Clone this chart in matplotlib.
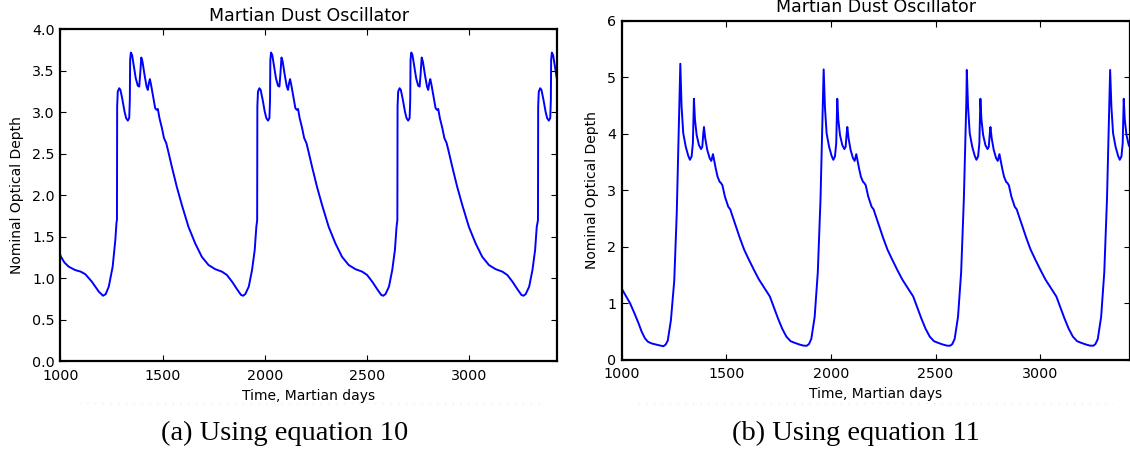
import matplotlib
matplotlib.use("Agg")
import matplotlib.pyplot as plt
from matplotlib.lines import Line2D

# -------------------------
# Data
# -------------------------
# (a) equation 10: the stretch before the first storm onset
left_head_x = [1000, 1003, 1020, 1041, 1072, 1100, 1122, 1154, 1188, 1209, 1222, 1237, 1256, 1269, 1275]
left_head_y = [1.28, 1.26, 1.19, 1.14, 1.10, 1.08, 1.05, 0.96, 0.84, 0.79, 0.81, 0.90, 1.14, 1.46, 1.68]

# one storm cycle, days after onset
left_cycle_d = [0, 1, 4, 11, 17, 27, 37, 45, 53, 60, 63, 64.5, 68, 74, 83, 92, 102, 109,
                114, 119, 125, 135, 145, 151, 156, 161, 167, 177, 187, 194, 200, 208,
                220, 230, 241, 249, 269, 293, 318, 350, 383, 415, 448, 481, 514, 538,
                563, 587, 607, 617, 628, 645, 661, 674, 682]
left_cycle_y = [1.70, 3.07, 3.25, 3.29, 3.27, 3.15, 3.01, 2.93, 2.90, 2.93, 3.15, 3.63, 3.72,
                3.69, 3.55, 3.41, 3.32, 3.31, 3.47, 3.66, 3.61, 3.45, 3.31, 3.27, 3.35,
                3.40, 3.33, 3.19, 3.05, 3.03, 3.04, 2.93, 2.81, 2.69, 2.63, 2.55, 2.34,
                2.10, 1.88, 1.62, 1.42, 1.26, 1.16, 1.11, 1.08, 1.04, 0.96, 0.87, 0.80,
                0.79, 0.81, 0.90, 1.10, 1.34, 1.62]
left_onsets = [1277, 1963, 2649, 3337]

# (b) equation 11
right_head_x = [1000, 1003, 1020, 1040, 1060, 1080, 1095, 1111, 1125, 1143, 1175, 1199,
                1210, 1220, 1235, 1251, 1263, 1270, 1276]
right_head_y = [1.27, 1.24, 1.13, 1.00, 0.83, 0.65, 0.50, 0.38, 0.32, 0.29, 0.26, 0.24,
                0.27, 0.34, 0.70, 1.40, 2.60, 3.70, 4.60]

# one storm cycle, days after the main peak
right_cycle_d = [0, 6, 14, 26, 38, 46, 54, 60, 65, 70, 78, 89, 99, 105, 110, 113, 119, 129,
                 140, 148, 153, 156, 161, 169, 178, 188, 194, 201, 213, 229, 239, 245, 265,
                 285, 305, 328, 352, 376, 400, 428, 447, 467, 487, 507, 527, 547, 570, 590,
                 605, 615, 626, 642, 657, 670, 677, 682]
right_cycle_y = [5.24, 4.48, 4.01, 3.77, 3.61, 3.54, 3.60, 3.83, 4.62, 4.25, 3.98, 3.80,
                 3.73, 3.77, 4.01, 4.12, 3.92, 3.71, 3.57, 3.52, 3.60, 3.64, 3.54, 3.39,
                 3.24, 3.15, 3.13, 3.09, 2.89, 2.71, 2.66, 2.59, 2.37, 2.15, 1.95, 1.77,
                 1.59, 1.42, 1.28, 1.12, 0.93, 0.73, 0.55, 0.41, 0.33, 0.30, 0.27, 0.25,
                 0.25, 0.28, 0.37, 0.76, 1.55, 2.85, 3.90, 4.60]
right_peaks_x = [1280, 1965, 2649, 3334]
right_peaks_y = [5.24, 5.14, 5.13, 5.13]

titles = ["Martian Dust Oscillator", "Martian Dust Oscillator"]
captions = ["(a) Using equation 10", "(b) Using equation 11"]


def build_series(head_x, head_y, starts, cyc_d, cyc_y, peaks=None):
    xs = list(head_x)
    ys = list(head_y)
    for i, s in enumerate(starts):
        first = len(ys)
        for d, v in zip(cyc_d, cyc_y):
            xs.append(s + d)
            ys.append(v)
        if peaks is not None:
            ys[first] = peaks[i]
    return xs, ys


lx, ly = build_series(left_head_x, left_head_y, left_onsets, left_cycle_d, left_cycle_y)
rx, ry = build_series(right_head_x, right_head_y, right_peaks_x, right_cycle_d,
                      right_cycle_y, right_peaks_y)

# -------------------------
# Figure
# -------------------------
plt.rcParams["font.family"] = ["DejaVu Sans"]
fig = plt.figure(figsize=(11.3, 4.55), dpi=100)

ax1 = fig.add_axes([0.0534, 0.2059, 0.4395, 0.7297])
ax2 = fig.add_axes([0.5502, 0.2092, 0.4500, 0.7451])

for ax, x, y, ymax, yt in [(ax1, lx, ly, 4.0, [0, 0.5, 1, 1.5, 2, 2.5, 3, 3.5, 4]),
                           (ax2, rx, ry, 6, [0, 1, 2, 3, 4, 5, 6])]:
    ax.plot(x, y, color="#0000ff", lw=1.4)
    ax.set_xlim(1000, 3430)
    ax.set_ylim(0, ymax)
    ax.set_xticks([1000, 1500, 2000, 2500, 3000])
    ax.set_yticks(yt)
    ax.tick_params(direction="in", top=True, right=True, length=4.5, width=0.8,
                   labelsize=10.3)
    ax.tick_params(axis="x", pad=5.5)
    ax.tick_params(axis="y", pad=4)
    for sp in ax.spines.values():
        sp.set_linewidth(1.6)
    ax.set_xlabel("Time, Martian days", fontsize=10, labelpad=4)
    ax.set_ylabel("Nominal Optical Depth", fontsize=10, labelpad=6)

ax1.set_yticklabels(["0.0", "0.5", "1.0", "1.5", "2.0", "2.5", "3.0", "3.5", "4.0"])
ax1.set_title(titles[0], fontsize=12.5, pad=6)
ax2.set_title(titles[1], fontsize=12.5, pad=6)

# faint figure-edge dots under the plots
for x0, x1 in [(0.07, 0.48), (0.565, 0.985)]:
    fig.add_artist(Line2D([x0, x1], [1 - 403 / 455] * 2, transform=fig.transFigure,
                          color="#e6e6e6", lw=0.8, ls=(0, (1, 6))))

# sub-captions
fig.text(284.5 / 1130, 1 - 433 / 455, captions[0], ha="center", va="center",
         fontsize=20.5, family=["Liberation Serif", "DejaVu Serif"])
fig.text(856 / 1130, 1 - 433 / 455, captions[1], ha="center", va="center",
         fontsize=20.5, family=["Liberation Serif", "DejaVu Serif"])

fig.savefig("out.png", dpi=100)
